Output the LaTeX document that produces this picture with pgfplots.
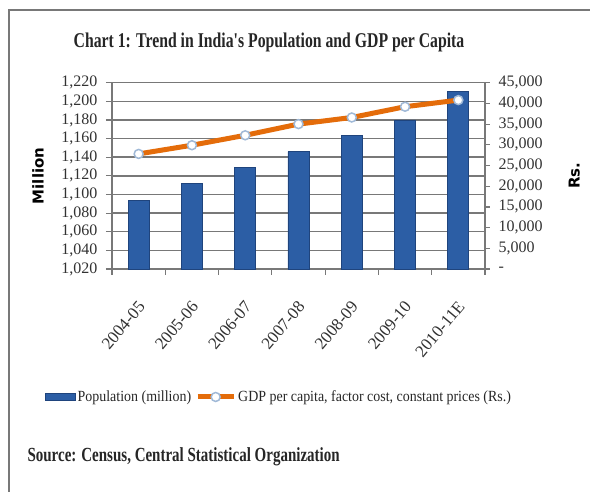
\documentclass[border=0pt]{standalone}
\usepackage{pgfplots}
\usepackage{pgfplotstable}
\pgfplotsset{compat=1.18}
\usepackage{fontspec}
\setmainfont{Liberation Serif}
\newfontfamily\condfont{Liberation Serif}[FakeStretch=0.75]
\newfontfamily\legfont{Liberation Serif}[FakeStretch=0.9]
\newfontfamily\labfont{DejaVu Sans}
\definecolor{barblue}{RGB}{44,94,165}
\definecolor{bardark}{RGB}{31,68,125}
\definecolor{gdporange}{RGB}{228,108,10}
\definecolor{gridgray}{RGB}{120,120,120}
\definecolor{mkedge}{RGB}{160,185,215}
\definecolor{ticktext}{RGB}{50,50,50}

\pgfplotsset{
  mylinelegend/.style={legend image code/.code={\draw[mark repeat=2,mark phase=2,##1] plot coordinates {(0pt,0pt) (18pt,0pt) (36pt,0pt)};}},
  mybarlegend/.style={legend image code/.code={\draw[fill=barblue, draw=bardark, line width=0.6pt] (0pt,-3.5pt) rectangle (30pt,3.5pt);}},
}

\pgfplotstableread{
x pop gdp
0 1094 27800
1 1112 29900
2 1129 32300
3 1146 35000
4 1163 36600
5 1180 39200
6 1211 40800
}\datatable

\begin{document}
\begin{tikzpicture}[x=1pt,y=1pt]
\useasboundingbox (0,0) rectangle (590,491);
\draw[gridgray, line width=2pt] (9,-5) -- (9,481) -- (600,481);
\node[font=\condfont\bfseries\fontsize{21}{24}\selectfont, text=black!85] at (269,449) {Chart 1: Trend in India's Population and GDP per Capita};
\node[anchor=west, font=\condfont\bfseries\fontsize{20}{24}\selectfont, text=black!85] at (24,34) {Source: Census, Central Statistical Organization};

\begin{axis}[
  at={(112pt,222pt)}, anchor=south west, scale only axis,
  width=373pt, height=186.3pt,
  xmin=-0.5, xmax=6.5, ymin=1020, ymax=1220,
  axis x line*=bottom, axis y line*=left,
  every outer x axis line/.append style={-},
  every outer y axis line/.append style={-},
  axis line style={gridgray, line width=1.5pt},
  ytick={1020,1040,...,1220},
  yticklabels={{1,020},{1,040},{1,060},{1,080},{1,100},{1,120},{1,140},{1,160},{1,180},{1,200},{1,220}},
  xtick={0,...,6},
  xticklabels={2004-05,2005-06,2006-07,2007-08,2008-09,2009-10,2010-11E},
  minor xtick={-0.5,0.5,...,6.5},
  major x tick style={draw=none},
  tick style={gridgray, line width=1.2pt},
  tick align=outside, major tick length=6pt, minor tick length=6pt,
  ymajorgrids, grid style={gridgray, line width=1.5pt},
  y tick label style={font=\fontsize{16}{16}\selectfont, text=ticktext, xshift=-5pt},
  x tick label style={font=\fontsize{17}{17}\selectfont, text=ticktext, xshift=-2pt, yshift=-20pt, rotate=50, anchor=north east},
  ylabel={Million},
  ylabel style={font=\labfont\bfseries\fontsize{15}{15}\selectfont, at={(axis description cs:-0.198,0.5)}, anchor=center},
  ybar, bar width=21pt,
]
\addplot[fill=barblue, draw=bardark, line width=0.8pt] table[x=x,y=pop]{\datatable};
\end{axis}

\begin{axis}[
  at={(112pt,222pt)}, anchor=south west, scale only axis,
  width=373pt, height=186.3pt,
  xmin=-0.5, xmax=6.5, ymin=0, ymax=45000,
  axis y line*=right, axis x line=none,
  every outer y axis line/.append style={-},
  axis line style={gridgray, line width=1.5pt},
  scaled y ticks=false,
  ytick={0,5000,...,45000},
  yticklabels={-,{5,000},{10,000},{15,000},{20,000},{25,000},{30,000},{35,000},{40,000},{45,000}},
  tick style={gridgray, line width=1.2pt},
  tick align=outside, major tick length=5pt,
  y tick label style={font=\fontsize{16}{16}\selectfont, text=ticktext, xshift=5pt},
  ylabel={Rs.},
  ylabel style={font=\labfont\bfseries\fontsize{15}{15}\selectfont, at={(axis description cs:1.239,0.5)}, anchor=center},
  legend columns=2,
  legend style={at={(axis description cs:-0.18,-0.687)}, anchor=west, draw=none, fill=none,
    font=\legfont\fontsize{15.5}{16}\selectfont, text=black!85, inner sep=0pt,
    /tikz/every even column/.append style={column sep=2pt}},
]
\addlegendimage{mybarlegend}
\addlegendentry{Population (million)}
\addplot[gdporange, line width=5pt, mark=*, mark options={fill=white, draw=mkedge, line width=1.5pt}, mark size=4.5pt, mylinelegend]
  table[x=x,y=gdp]{\datatable};
\addlegendentry{GDP per capita, factor cost, constant prices (Rs.)}
\end{axis}
\end{tikzpicture}
\end{document}
